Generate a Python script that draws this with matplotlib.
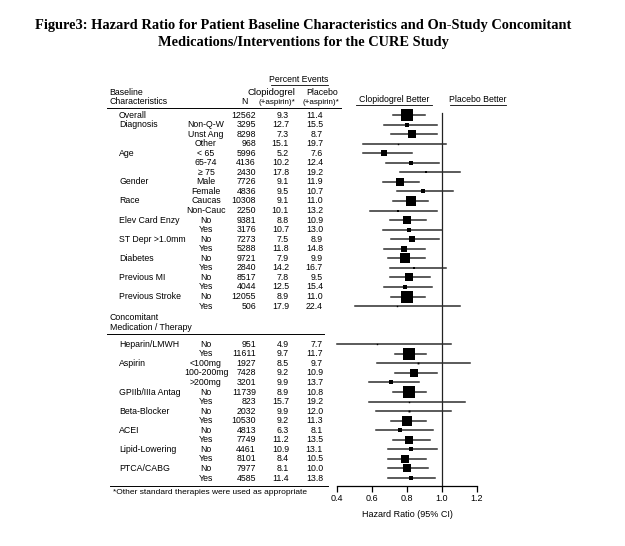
import matplotlib
matplotlib.use('Agg')
import matplotlib.pyplot as plt
import matplotlib.transforms as mtransforms

# table data
categories = ['Overall', 'Diagnosis', '', '', 'Age', '', '', 'Gender', '', 'Race', '',
              'Elev Card Enzy', '', 'ST Depr >1.0mm', '', 'Diabetes', '', 'Previous MI', '',
              'Previous Stroke', '',
              'Heparin/LMWH', '', 'Aspirin', '', '', 'GPIIb/IIIa Antag', '', 'Beta-Blocker', '',
              'ACEI', '', 'Lipid-Lowering', '', 'PTCA/CABG', '']
subgroups = ['', 'Non-Q-W', 'Unst Ang', 'Other', '< 65', '65-74', '\u2265 75', 'Male', 'Female',
             'Caucas', 'Non-Cauc', 'No', 'Yes', 'No', 'Yes', 'No', 'Yes', 'No', 'Yes', 'No', 'Yes',
             'No', 'Yes', '<100mg', '100-200mg', '>200mg', 'No', 'Yes', 'No', 'Yes',
             'No', 'Yes', 'No', 'Yes', 'No', 'Yes']
n_pts = [12562, 3295, 8298, 968, 5996, 4136, 2430, 7726, 4836, 10308, 2250, 9381, 3176,
         7273, 5288, 9721, 2840, 8517, 4044, 12055, 506,
         951, 11611, 1927, 7428, 3201, 11739, 823, 2032, 10530, 4813, 7749, 4461, 8101, 7977, 4585]
clop = ['9.3', '12.7', '7.3', '15.1', '5.2', '10.2', '17.8', '9.1', '9.5', '9.1', '10.1', '8.8',
        '10.7', '7.5', '11.8', '7.9', '14.2', '7.8', '12.5', '8.9', '17.9',
        '4.9', '9.7', '8.5', '9.2', '9.9', '8.9', '15.7', '9.9', '9.2', '6.3', '11.2', '10.9',
        '8.4', '8.1', '11.4']
plac = ['11.4', '15.5', '8.7', '19.7', '7.6', '12.4', '19.2', '11.9', '10.7', '11.0', '13.2',
        '10.9', '13.0', '8.9', '14.8', '9.9', '16.7', '9.5', '15.4', '11.0', '22.4',
        '7.7', '11.7', '9.7', '10.9', '13.7', '10.8', '19.2', '12.0', '11.3', '8.1', '13.5',
        '13.1', '10.5', '10.0', '13.8']

# hazard ratios and 95% CI
hr = [0.80, 0.80, 0.83, 0.75, 0.67, 0.82, 0.91, 0.76, 0.89, 0.82, 0.75, 0.80, 0.81,
      0.83, 0.78, 0.79, 0.84, 0.81, 0.79, 0.80, 0.74,
      0.63, 0.81, 0.86, 0.84, 0.71, 0.81, 0.81, 0.81, 0.80, 0.76, 0.81, 0.82, 0.79, 0.80, 0.82]
lo = [0.72, 0.67, 0.71, 0.55, 0.55, 0.68, 0.76, 0.66, 0.74, 0.72, 0.59, 0.70, 0.66,
      0.71, 0.67, 0.69, 0.70, 0.70, 0.67, 0.71, 0.50,
      0.40, 0.73, 0.63, 0.73, 0.58, 0.72, 0.58, 0.62, 0.71, 0.62, 0.72, 0.69, 0.69, 0.69, 0.69]
hi = [0.90, 0.97, 0.97, 1.02, 0.83, 0.98, 1.10, 0.87, 1.06, 0.92, 0.97, 0.91, 1.00,
      0.98, 0.90, 0.90, 1.02, 0.93, 0.94, 0.90, 1.10,
      1.05, 0.91, 1.16, 0.97, 0.87, 0.91, 1.13, 1.05, 0.91, 0.95, 0.93, 0.97, 0.91, 0.92, 0.96]

W, H = 625, 546
fig = plt.figure(figsize=(W / 100, H / 100), dpi=100)
plt.rcParams['font.family'] = ['Liberation Sans', 'DejaVu Sans']

def fx(px):
    return px / W

def fy(py):
    return 1 - py / H

# forest axes: 0.4..1.2 spans x 337..477 px, rows at 9.55 px
row_px = 9.553
y_bot = (486 - 115) / row_px
y_top = -1.0
ax = fig.add_axes([fx(337), fy(486), fx(477) - fx(337), (486 - (115 + y_top * row_px)) / H])
ax.set_xlim(0.4, 1.2)
ax.set_ylim(y_bot, y_top)
for s in ['top', 'right', 'left']:
    ax.spines[s].set_visible(False)
ax.spines['bottom'].set_linewidth(0.9)
ax.set_yticks([])
ax.set_xticks([0.4, 0.6, 0.8, 1.0, 1.2])
ax.set_xticklabels(['0.4', '0.6', '0.8', '1.0', '1.2'])
ax.tick_params(axis='x', length=4, width=0.9, labelsize=6.5, pad=2)
ax.set_xlabel('Hazard Ratio (95% CI)', fontsize=6.5, labelpad=5)

# row positions (gap of 3 rows before concomitant medications)
ypos = [i if i < 21 else i + 3 for i in range(len(hr))]

ax.plot([1.0, 1.0], [y_bot, -0.2], color='#222222', lw=0.9, clip_on=False)
for i in range(len(hr)):
    ax.plot([lo[i], hi[i]], [ypos[i], ypos[i]], color='#2e2e2e', lw=1.1, clip_on=False)
    side = 12 * n_pts[i] / 12562
    ax.plot(hr[i], ypos[i], marker='s', color='black', markersize=max(side * 0.72, 1.0),
            markeredgewidth=0, linestyle='none')

# table text on rows
tr = mtransforms.blended_transform_factory(fig.transFigure, ax.transData)
fs = 6.3
for i in range(len(hr)):
    y = ypos[i]
    ax.text(fx(119), y, categories[i], transform=tr, fontsize=fs, va='center', ha='left')
    ax.text(fx(206), y, subgroups[i], transform=tr, fontsize=fs, va='center', ha='center')
    ax.text(fx(256), y, str(n_pts[i]), transform=tr, fontsize=fs, va='center', ha='right')
    ax.text(fx(289), y, clop[i], transform=tr, fontsize=fs, va='center', ha='right')
    ax.text(fx(323), y, plac[i], transform=tr, fontsize=fs, va='center', ha='right')

# title
fig.text(fx(303), fy(26), 'Figure3: Hazard Ratio for Patient Baseline Characteristics and On-Study Concomitant',
         ha='center', va='center', fontsize=10.4, fontweight='bold', family='Liberation Serif')
fig.text(fx(303), fy(43), 'Medications/Interventions for the CURE Study',
         ha='center', va='center', fontsize=10.4, fontweight='bold', family='Liberation Serif')

# column headers
fig.text(fx(299), fy(80), 'Percent Events', ha='center', va='center', fontsize=fs)
fig.add_artist(plt.Line2D([fx(271), fx(328)], [fy(85), fy(85)], color='black', lw=0.6))
fig.text(fx(109), fy(92), 'Baseline', ha='left', va='center', fontsize=fs)
fig.text(fx(109), fy(102), 'Characteristics', ha='left', va='center', fontsize=fs)
fig.text(fx(271), fy(92), 'Clopidogrel', ha='center', va='center', fontsize=6.8)
fig.text(fx(322), fy(92), 'Placebo', ha='center', va='center', fontsize=fs)
fig.text(fx(244), fy(102), 'N', ha='center', va='center', fontsize=fs)
fig.text(fx(277), fy(102), '(+aspirin)*', ha='center', va='center', fontsize=5.8)
fig.text(fx(321), fy(102), '(+aspirin)*', ha='center', va='center', fontsize=5.8)
fig.add_artist(plt.Line2D([fx(107), fx(341)], [fy(108), fy(108)], color='black', lw=0.7))

fig.text(fx(394), fy(100), 'Clopidogrel Better', ha='center', va='center', fontsize=fs)
fig.add_artist(plt.Line2D([fx(356), fx(432)], [fy(105), fy(105)], color='black', lw=0.6))
fig.text(fx(478), fy(100), 'Placebo Better', ha='center', va='center', fontsize=fs)
fig.add_artist(plt.Line2D([fx(450), fx(506)], [fy(105), fy(105)], color='black', lw=0.6))

fig.text(fx(110), fy(317), 'Concomitant', ha='left', va='center', fontsize=fs)
fig.text(fx(110), fy(327), 'Medication / Therapy', ha='left', va='center', fontsize=fs)
fig.add_artist(plt.Line2D([fx(107), fx(324)], [fy(334), fy(334)], color='black', lw=0.7))

fig.add_artist(plt.Line2D([fx(110), fx(328)], [fy(486), fy(486)], color='black', lw=0.7))
fig.text(fx(113), fy(493), '*Other standard therapies were used as appropriate',
         ha='left', va='center', fontsize=6.0)

fig.savefig('out.png', dpi=100, facecolor='white')
